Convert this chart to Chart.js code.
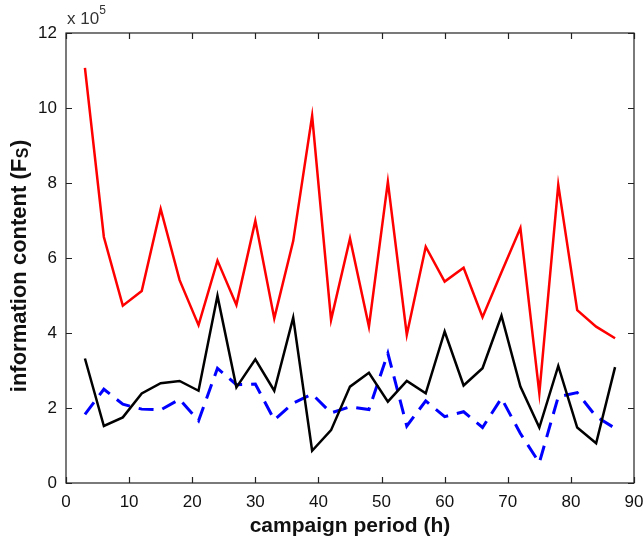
<!DOCTYPE html>
<html>
<head>
<meta charset="utf-8">
<script src="https://cdn.jsdelivr.net/npm/chart.js@4.4.1/dist/chart.umd.min.js"></script>
<style>
  html, body { margin: 0; padding: 0; background: #fff; }
  #wrap { width: 644px; height: 543px; }
</style>
</head>
<body>
<div id="wrap"><canvas id="chart" width="644" height="543"></canvas></div>
<script>
// campaign period (h)
const hours = [3, 6, 9, 12, 15, 18, 21, 24, 27, 30, 33, 36, 39, 42, 45, 48, 51, 54, 57, 60, 63, 66, 69, 72, 75, 78, 81, 84, 87];

// information content, in units of 10^5
const redSeries = [11.07, 6.56, 4.73, 5.12, 7.31, 5.41, 4.21, 5.93, 4.75, 6.99, 4.39, 6.45, 9.79, 4.35, 6.52, 4.17, 8.03, 3.95, 6.3, 5.37, 5.74, 4.42, 5.62, 6.8, 2.39, 7.95, 4.61, 4.17, 3.86];
const blackSeries = [3.32, 1.52, 1.75, 2.39, 2.66, 2.72, 2.46, 4.99, 2.55, 3.3, 2.46, 4.41, 0.86, 1.41, 2.57, 2.94, 2.17, 2.72, 2.39, 4.04, 2.6, 3.06, 4.46, 2.57, 1.48, 3.12, 1.48, 1.06, 3.09];
const blueSeries = [1.83, 2.5, 2.1, 1.97, 1.95, 2.23, 1.66, 3.06, 2.62, 2.64, 1.68, 2.13, 2.37, 1.87, 2.03, 1.96, 3.46, 1.52, 2.19, 1.77, 1.9, 1.48, 2.26, 1.32, 0.54, 2.3, 2.41, 1.77, 1.46];

const xTicks = [0, 10, 20, 30, 40, 50, 60, 70, 80, 90];
const yTicks = [0, 2, 4, 6, 8, 10, 12];

const FONT = 'Liberation Sans, Arial, sans-serif';

function toPoints(values) {
    return hours.map((h, i) => ({ x: h, y: values[i] }));
}

// Box round the plot, inward ticks on all sides, y title and the exponent
const framePlugin = {
    id: 'frame',
    afterDraw(chart) {
        const ctx = chart.ctx;
        const a = chart.chartArea;
        const xs = chart.scales.x;
        const ys = chart.scales.y;
        const len = 6;
        ctx.save();
        ctx.strokeStyle = '#222';
        ctx.lineWidth = 1.2;
        ctx.strokeRect(a.left, a.top, a.right - a.left, a.bottom - a.top);
        ctx.beginPath();
        xTicks.forEach(v => {
            const px = Math.round(xs.getPixelForValue(v)) + 0.5;
            ctx.moveTo(px, a.bottom); ctx.lineTo(px, a.bottom - len);
            ctx.moveTo(px, a.top); ctx.lineTo(px, a.top + len);
        });
        yTicks.forEach(v => {
            const py = Math.round(ys.getPixelForValue(v)) + 0.5;
            ctx.moveTo(a.left, py); ctx.lineTo(a.left + len, py);
            ctx.moveTo(a.right, py); ctx.lineTo(a.right - len, py);
        });
        ctx.stroke();

        // exponent label
        ctx.fillStyle = '#333';
        ctx.textBaseline = 'alphabetic';
        ctx.textAlign = 'left';
        ctx.font = '17px ' + FONT;
        ctx.fillText('x 10', a.left + 1, a.top - 9);
        const w = ctx.measureText('x 10').width;
        ctx.font = '12px ' + FONT;
        ctx.fillText('5', a.left + 1 + w, a.top - 19);

        // y axis title with subscript
        ctx.fillStyle = '#111';
        ctx.translate(20, 266);
        ctx.rotate(-Math.PI / 2);
        const main = 'information content (F';
        ctx.font = 'bold 22px ' + FONT;
        const w1 = ctx.measureText(main).width;
        const w3 = ctx.measureText(')').width;
        ctx.font = 'bold 16px ' + FONT;
        const w2 = ctx.measureText('S').width + 1;
        const start = -(w1 + w2 + w3) / 2;
        ctx.textBaseline = 'middle';
        ctx.font = 'bold 22px ' + FONT;
        ctx.fillText(main, start, 0);
        ctx.font = 'bold 16px ' + FONT;
        ctx.fillText('S', start + w1 + 0.5, 4);
        ctx.font = 'bold 22px ' + FONT;
        ctx.fillText(')', start + w1 + w2, 0);
        ctx.restore();
    }
};

new Chart(document.getElementById('chart'), {
    type: 'line',
    data: {
        datasets: [
            {
                label: 'red',
                data: toPoints(redSeries),
                borderColor: '#ff0000',
                borderWidth: 2.5,
                pointRadius: 0,
                tension: 0
            },
            {
                label: 'black',
                data: toPoints(blackSeries),
                borderColor: '#000000',
                borderWidth: 2.5,
                pointRadius: 0,
                tension: 0
            },
            {
                label: 'blue',
                data: toPoints(blueSeries),
                borderColor: '#0000ff',
                borderWidth: 3,
                borderDash: [15, 9],
                pointRadius: 0,
                tension: 0
            }
        ]
    },
    options: {
        responsive: false,
        animation: false,
        layout: {
            padding: { top: 33, right: 0, left: 0, bottom: 0 }
        },
        plugins: {
            legend: { display: false },
            tooltip: { enabled: false },
            title: { display: false }
        },
        scales: {
            x: {
                type: 'linear',
                min: 0,
                max: 90,
                afterFit(scale) {
                    scale.height = 60;
                    scale.paddingRight = 10;
                },
                afterBuildTicks(scale) { scale.ticks = xTicks.map(v => ({ value: v })); },
                grid: { display: false, drawTicks: false },
                border: { display: false },
                ticks: {
                    color: '#111',
                    padding: 9,
                    font: { family: FONT, size: 17 }
                },
                title: {
                    display: true,
                    text: 'campaign period (h)',
                    color: '#111',
                    padding: { top: 0, bottom: 4 },
                    font: { family: FONT, size: 21, weight: 'bold' }
                }
            },
            y: {
                min: 0,
                max: 12,
                afterFit(scale) { scale.width = 66; },
                afterBuildTicks(scale) { scale.ticks = yTicks.map(v => ({ value: v })); },
                grid: { display: false, drawTicks: false },
                border: { display: false },
                ticks: {
                    color: '#111',
                    padding: 9,
                    font: { family: FONT, size: 17 }
                }
            }
        }
    },
    plugins: [framePlugin]
});
</script>
</body>
</html>
